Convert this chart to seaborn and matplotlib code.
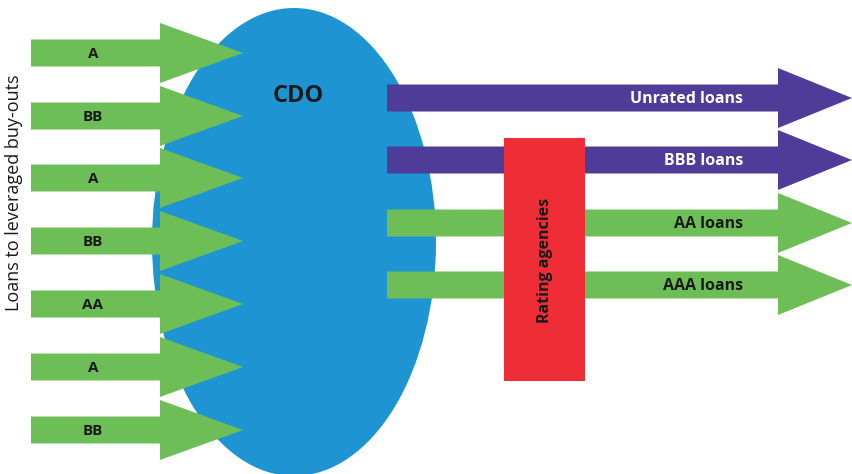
import matplotlib
matplotlib.use("Agg")
import matplotlib.pyplot as plt
import seaborn as sns
from matplotlib.patches import Ellipse, Rectangle

# -----------------------------
# DATA
# -----------------------------
input_ratings = ["A", "BB", "A", "BB", "AA", "A", "BB"]
input_rows = [53, 116, 178, 241, 304, 367, 430]

output_labels = ["Unrated loans", "BBB loans", "AA loans", "AAA loans"]
output_rows = [98, 160, 223, 285]

GREEN = "#6DBE57"
PURPLE = "#4E3C98"
BLUE = "#1E94D2"
RED = "#EE2D36"

sns.set_theme(style="white")
plt.rcParams["font.family"] = ["Open Sans", "DejaVu Sans"]

fig = plt.figure(figsize=(8.52, 4.74), dpi=100)
ax = fig.add_axes([0, 0, 1, 1])
ax.set_xlim(0, 852)
ax.set_ylim(474, 0)
ax.axis("off")

# -----------------------------
# CDO ELLIPSE
# -----------------------------
ax.add_patch(Ellipse((294, 242), 284, 468, color=BLUE, zorder=1, lw=0))
ax.text(298, 96, "CDO", fontsize=17, fontweight="bold", color="#1a1a1a",
        ha="center", va="center", zorder=5)

# -----------------------------
# INPUT ARROWS
# -----------------------------
for lab, y in zip(input_ratings, input_rows):
    ax.arrow(31, y, 212, 0, width=27, head_width=60, head_length=83,
             length_includes_head=True, color=GREEN, lw=0, zorder=2)
    ax.text(93, y + 1, lab, fontsize=11, fontweight="bold", color="#1a1a1a",
            ha="center", va="center", zorder=5)

ax.text(14, 193, "Loans to leveraged buy-outs", rotation=90, fontsize=13,
        color="#1a1a1a", ha="center", va="center")

# -----------------------------
# OUTPUT ARROWS
# -----------------------------
for lab, y in zip(output_labels, output_rows):
    col = PURPLE if y < 200 else GREEN
    ax.arrow(387, y, 465, 0, width=27, head_width=60, head_length=74,
             length_includes_head=True, color=col, lw=0, zorder=2)
    ax.text(743, y + 1, lab, fontsize=11.5, fontweight="bold",
            color="white" if col == PURPLE else "#1a1a1a",
            ha="right", va="center", zorder=5)

# -----------------------------
# RATING AGENCIES
# -----------------------------
ax.add_patch(Rectangle((504, 138), 81, 243, color=RED, lw=0, zorder=3))
ax.text(545, 260, "Rating agencies", rotation=90, fontsize=11.5,
        fontweight="bold", color="#1a1a1a", ha="center", va="center", zorder=5)

fig.savefig("out.png", dpi=100)
